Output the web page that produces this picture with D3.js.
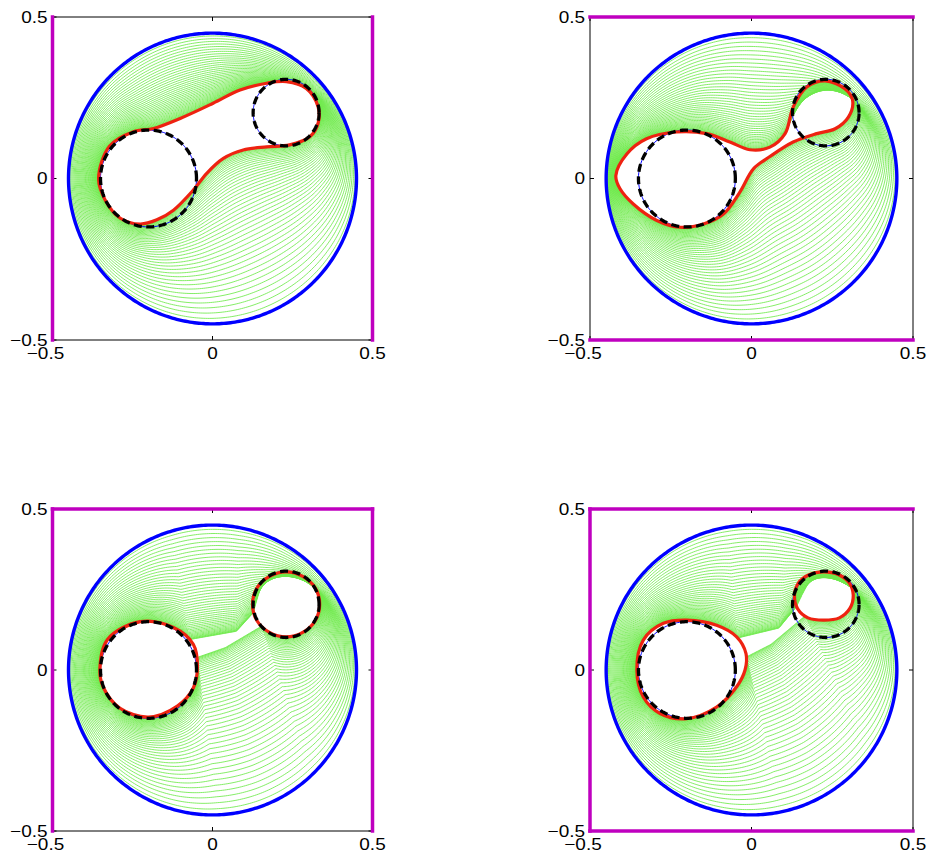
<!DOCTYPE html>
<html><head><meta charset="utf-8">
<script src="https://cdn.jsdelivr.net/npm/d3@7"></script>
<style>body{margin:0;background:#fff}</style>
</head><body>
<svg id="chart" width="929" height="857"></svg>
<script>
// ---------- data ----------
const tickValues = [-0.5, 0, 0.5];
const tickLabels = ["\u22120.5", "0", "0.5"];
const outerRadius = 0.45;
// target circles: [cx, cy, r]
const targetCircles = [[-0.2, 0, 0.15], [0.23, 0.204, 0.103]];

const red1 = [[-0.356,0.000],[-0.322,0.100],[-0.247,0.145],[-0.184,0.155],[-0.101,0.186],[0.002,0.233],[0.086,0.274],[0.169,0.295],[0.231,0.300],[0.293,0.279],[0.330,0.222],[0.330,0.171],[0.304,0.129],[0.241,0.104],[0.169,0.098],[0.096,0.088],[0.034,0.062],[-0.018,0.016],[-0.060,-0.036],[-0.122,-0.098],[-0.174,-0.128],[-0.226,-0.141],[-0.288,-0.123],[-0.335,-0.067]];
const red2 = [[-0.420,0.009],[-0.386,0.076],[-0.325,0.123],[-0.232,0.144],[-0.139,0.139],[-0.067,0.113],[-0.005,0.089],[0.057,0.097],[0.104,0.139],[0.129,0.221],[0.171,0.283],[0.228,0.302],[0.289,0.278],[0.313,0.242],[0.300,0.190],[0.259,0.154],[0.202,0.139],[0.129,0.113],[0.057,0.068],[0.006,0.030],[-0.036,-0.042],[-0.087,-0.110],[-0.149,-0.141],[-0.221,-0.151],[-0.293,-0.130],[-0.366,-0.079],[-0.407,-0.032]];
const red3a = [[-0.352,0.000],[-0.328,0.095],[-0.226,0.150],[-0.122,0.132],[-0.060,0.080],[-0.047,0.010],[-0.060,-0.056],[-0.110,-0.112],[-0.200,-0.146],[-0.290,-0.118],[-0.342,-0.052]];
const red3b = [[0.335,0.204],[0.321,0.255],[0.282,0.291],[0.230,0.305],[0.178,0.291],[0.139,0.255],[0.125,0.204],[0.139,0.153],[0.178,0.117],[0.230,0.103],[0.282,0.117],[0.321,0.153]];
const red4a = [[-0.355,0.000],[-0.335,0.093],[-0.273,0.145],[-0.201,0.155],[-0.108,0.139],[-0.046,0.103],[-0.017,0.051],[-0.020,0.000],[-0.046,-0.052],[-0.108,-0.115],[-0.201,-0.151],[-0.283,-0.135],[-0.335,-0.084]];
const red4b = [[0.315,0.232],[0.303,0.270],[0.270,0.296],[0.224,0.305],[0.178,0.296],[0.145,0.270],[0.133,0.230],[0.143,0.190],[0.175,0.162],[0.224,0.155],[0.272,0.162],[0.305,0.192]];
// neck lanes between the two inner shapes (out: big -> small, back: small -> big)
const bridge3Out  = [[-0.052,0.040],[0.040,0.070],[0.150,0.135]];
const bridge3Back = [[0.128,0.178],[0.075,0.120],[-0.075,0.092]];
const bridge4Out  = [[-0.022,0.040],[0.060,0.080],[0.160,0.160]];
const bridge4Back = [[0.135,0.195],[0.085,0.130],[-0.040,0.100]];

const panelCurves = [[red1], [red2], [red3a, red3b], [red4a, red4b]];
const panelBridges = [null, null, [bridge3Out, bridge3Back], [bridge4Out, bridge4Back]];
const magentaSides = [["left","right"], ["top","bottom"], ["left","top","right"], ["left","top","bottom"]];
const greenCount = 45;

// ---------- layout ----------
const colX = [[52.5, 372.5], [590, 913]];
const rowY = [[17, 340], [509, 831]];
const svg = d3.select("#chart");

// ---------- helpers ----------
const tmpSvg = d3.select("body").append("svg").attr("width",0).attr("height",0).style("position","absolute");
function signedArea(p){let a=0;for(let i=0;i<p.length;i++){const j=(i+1)%p.length;a+=p[i][0]*p[j][1]-p[j][0]*p[i][1];}return a/2;}
function orientCCW(p){return signedArea(p)<0?p.slice().reverse():p;}
function rotate(p,i){return p.slice(i).concat(p.slice(0,i));}
function nearest(p,q){let bi=0,bd=Infinity;p.forEach((r,i)=>{const d=(r[0]-q[0])**2+(r[1]-q[1])**2;if(d<bd){bd=d;bi=i;}});return bi;}
function arc(P,i0,i1){const out=[];let i=i0;for(;;){out.push(P[i]);if(i===i1)break;i=(i+1)%P.length;}return out;}
function denseSample(pts,K){
  const S=1000;
  const d=d3.line().curve(d3.curveCatmullRomClosed.alpha(0.5))(pts.map(p=>[p[0]*S,p[1]*S]));
  const path=tmpSvg.append("path").attr("d",d).node();
  const L=path.getTotalLength(); const out=[];
  for(let i=0;i<K;i++){const q=path.getPointAtLength(L*i/K);out.push([q.x/S,q.y/S]);}
  path.remove();
  return orientCCW(out);
}
function resample(poly,M){
  const n=poly.length; const cum=[0];
  for(let i=0;i<n;i++){const a=poly[i],b=poly[(i+1)%n];cum.push(cum[i]+Math.hypot(b[0]-a[0],b[1]-a[1]));}
  const L=cum[n]; const out=[]; let seg=0;
  for(let j=0;j<M;j++){const s=L*j/M; while(seg<n-1&&cum[seg+1]<s)seg++;
    const a=poly[seg],b=poly[(seg+1)%n]; const len=cum[seg+1]-cum[seg]; const u=len>0?(s-cum[seg])/len:0;
    out.push([a[0]+(b[0]-a[0])*u,a[1]+(b[1]-a[1])*u]);}
  return out;
}
function innerPath(curves,bridges,K){
  const B=denseSample(curves[0],K);
  if(!bridges) return B;
  const S=denseSample(curves[1],K);
  const [bo,bb]=bridges;
  const iBout=nearest(B,bo[0]), iSin=nearest(S,bo[bo.length-1]);
  const iSout=nearest(S,bb[0]), iBin=nearest(B,bb[bb.length-1]);
  return arc(B,iBin,iBout).concat(bo.slice(1,-1),arc(S,iSin,iSout),bb.slice(1,-1));
}
function circlePts(cx,cy,r,n){return d3.range(n).map(j=>{const th=2*Math.PI*j/n;return [cx+r*Math.cos(th),cy+r*Math.sin(th)];});}

const M = 400;
const outerPts = d3.range(M).map(j=>{const th=Math.PI+2*Math.PI*j/M;return [outerRadius*Math.cos(th),outerRadius*Math.sin(th)];});
const font = "'Liberation Sans', Arial, Helvetica, sans-serif";

panelCurves.forEach((curves,i)=>{
  const col=i%2,row=Math.floor(i/2);
  const x=d3.scaleLinear().domain([-0.5,0.5]).range(colX[col]);
  const y=d3.scaleLinear().domain([-0.5,0.5]).range([rowY[row][1],rowY[row][0]]);
  const lin=d3.line().x(d=>x(d[0])).y(d=>y(d[1])).curve(d3.curveLinearClosed);
  const smooth=d3.line().x(d=>x(d[0])).y(d=>y(d[1])).curve(d3.curveCatmullRomClosed.alpha(0.5));
  const g=svg.append("g");

  // green morph curves
  let poly=innerPath(curves,panelBridges[i],300);
  poly=rotate(poly,d3.minIndex(poly,p=>p[0]));
  const inner=resample(poly,M);
  const gg=g.append("g").attr("fill","none").attr("stroke","#6fea4c").attr("stroke-width",0.85);
  for(let k=1;k<=greenCount;k++){
    const t=1-Math.pow(1-k/(greenCount+1),1.8);
    const pts=outerPts.map((o,j)=>[o[0]+(inner[j][0]-o[0])*t,o[1]+(inner[j][1]-o[1])*t]);
    gg.append("path").attr("d",lin(pts));
  }
  // thin blue target circles
  targetCircles.forEach(c=>g.append("path").attr("d",lin(circlePts(c[0],c[1],c[2],200)))
    .attr("fill","none").attr("stroke","#0000ff").attr("stroke-width",1));
  // red curves
  curves.forEach(c=>g.append("path").attr("d",smooth(c)).attr("fill","none")
    .attr("stroke","#ee2211").attr("stroke-width",3.2).attr("stroke-linejoin","round"));
  // black dashed targets
  targetCircles.forEach(c=>g.append("path").attr("d",lin(circlePts(c[0],c[1],c[2],200)))
    .attr("fill","none").attr("stroke","#000").attr("stroke-width",3.3).attr("stroke-dasharray","8,4.5"));
  // outer blue circle
  g.append("path").attr("d",lin(circlePts(0,0,outerRadius,400))).attr("fill","none")
    .attr("stroke","#0000ff").attr("stroke-width",3.4);

  // frame
  const [x0,x1]=colX[col],[y0,y1]=rowY[row];
  const sides={left:[x0,y0,x0,y1],right:[x1,y0,x1,y1],top:[x0,y0,x1,y0],bottom:[x0,y1,x1,y1]};
  Object.keys(sides).forEach(s=>{
    if(magentaSides[i].includes(s)) return;
    const v=sides[s];
    g.append("line").attr("x1",v[0]).attr("y1",v[1]).attr("x2",v[2]).attr("y2",v[3]).attr("stroke","#000").attr("stroke-width",1);
  });
  // ticks
  tickValues.forEach(tv=>{
    g.append("line").attr("x1",x0).attr("x2",x0+4).attr("y1",y(tv)).attr("y2",y(tv)).attr("stroke","#000");
    g.append("line").attr("x1",x1).attr("x2",x1-4).attr("y1",y(tv)).attr("y2",y(tv)).attr("stroke","#000");
    g.append("line").attr("y1",y1).attr("y2",y1-4).attr("x1",x(tv)).attr("x2",x(tv)).attr("stroke","#000");
    g.append("line").attr("y1",y0).attr("y2",y0+4).attr("x1",x(tv)).attr("x2",x(tv)).attr("stroke","#000");
  });
  magentaSides[i].forEach(s=>{
    const v=sides[s];
    g.append("line").attr("x1",v[0]).attr("y1",v[1]).attr("x2",v[2]).attr("y2",v[3])
      .attr("stroke","#bf00bf").attr("stroke-width",3.5).attr("stroke-linecap","square");
  });
  // tick labels
  tickValues.forEach((tv,j)=>{
    g.append("text").attr("transform",`translate(${x0-5},${y(tv)}) scale(1.15,1)`)
      .attr("text-anchor","end").attr("dy","0.36em")
      .style("font-family",font).style("font-size","16.5px")
      .text(tickLabels[j]);
    g.append("text").attr("transform",`translate(${x(tv)+(tv<0?-7:0)},${y1+19}) scale(1.15,1)`)
      .attr("text-anchor","middle")
      .style("font-family",font).style("font-size","16.5px")
      .text(tickLabels[j]);
  });
});
tmpSvg.remove();
</script>
</body></html>
